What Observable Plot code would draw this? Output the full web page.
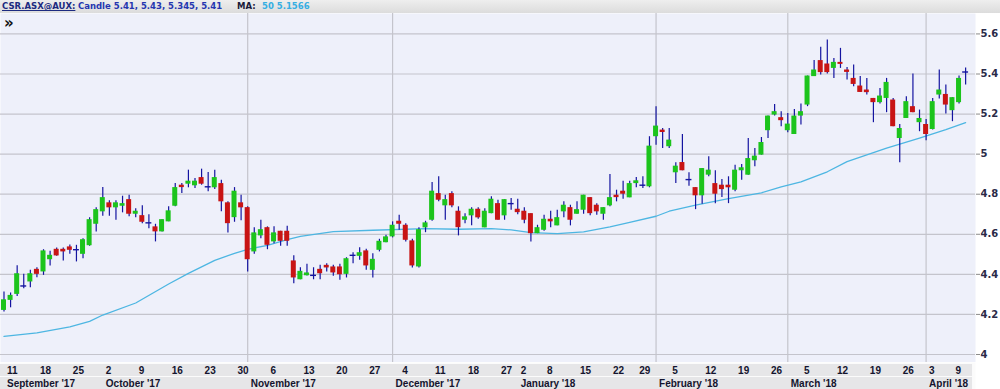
<!DOCTYPE html>
<html><head><meta charset="utf-8">
<script src="https://cdn.jsdelivr.net/npm/d3@7"></script>
<script src="https://cdn.jsdelivr.net/npm/@observablehq/plot@0.6"></script>
<style>
html,body{margin:0;padding:0;background:#fff;}
#wrap{position:relative;width:1000px;height:389px;overflow:hidden;}
#hdr{position:absolute;left:0;top:0;width:1000px;height:13px;background:linear-gradient(#eeeeee,#dcdcdc);font-family:"DejaVu Sans",sans-serif;font-weight:bold;font-size:8.5px;}
#hdr span{position:absolute;top:1px;line-height:11px;white-space:nowrap;}
#main{position:absolute;left:0;top:13px;width:1000px;height:349px;}
#axis{position:absolute;left:0;top:362px;width:1000px;height:27px;}
#main svg,#axis svg{display:block;}
#chev{position:absolute;left:4px;top:14px;font:bold 15px "DejaVu Sans",sans-serif;line-height:18px;color:#111;}
</style></head><body>
<div id="wrap">
 <div id="hdr">
  <span style="left:2px;color:#1c2a80;text-decoration:underline">CSR.ASX@AUX:</span>
  <span style="left:78px;color:#2536b0">Candle 5.41, 5.43, 5.345, 5.41</span>
  <span style="left:237px;color:#1a1a3a">MA:</span>
  <span style="left:262px;color:#35aee2">50 5.1566</span>
 </div>
 <div id="main"></div>
 <div id="axis"></div>
 <div id="chev">»</div>
</div>
<script>
// Daily candles, trading-day index 0 = 11 Sep 2017 ... 146 = 11 Apr 2018
const opens = [4.22,4.27,4.30,4.342,4.362,4.425,4.412,4.473,4.525,4.525,4.537,4.523,4.50,4.543,4.65,4.712,4.757,4.732,4.74,4.773,
4.70,4.693,4.657,4.637,4.612,4.662,4.74,4.845,4.85,4.842,4.883,4.837,4.832,4.853,4.757,4.683,4.757,4.733,4.512,4.592,
4.633,4.562,4.615,4.615,4.467,4.373,4.393,4.395,4.425,4.445,4.437,4.437,4.40,4.495,4.49,4.517,4.42,4.52,4.558,4.587,
4.665,4.645,4.567,4.437,4.632,4.67,4.803,4.742,4.803,4.715,4.67,4.692,4.725,4.632,4.703,4.753,4.692,4.753,4.725,4.715,
4.703,4.603,4.62,4.675,4.642,4.712,4.733,4.70,4.72,4.783,4.745,4.70,4.742,4.795,4.815,4.782,4.853,4.845,4.837,5.087,
5.12,5.037,4.907,4.958,4.873,4.833,4.792,4.895,4.853,4.845,4.845,4.82,4.917,4.895,4.967,4.995,5.117,5.195,5.182,5.117,
5.098,5.19,5.245,5.387,5.467,5.45,5.428,5.458,5.42,5.378,5.34,5.32,5.278,5.257,5.278,5.27,5.078,5.178,5.237,5.157,
5.148,5.123,5.295,5.298,5.217,5.257,5.41];
const highs = [4.312,4.307,4.443,4.40,4.42,4.433,4.523,4.515,4.532,4.532,4.547,4.545,4.578,4.683,4.733,4.833,4.767,4.767,4.79,4.795,
4.728,4.743,4.698,4.65,4.673,4.737,4.853,4.853,4.92,4.878,4.925,4.908,4.92,4.87,4.762,4.833,4.795,4.737,4.632,4.67,
4.637,4.637,4.615,4.64,4.493,4.433,4.45,4.433,4.445,4.453,4.445,4.45,4.483,4.508,4.533,4.525,4.503,4.575,4.595,4.662,
4.695,4.653,4.575,4.633,4.665,4.858,4.887,4.795,4.812,4.737,4.703,4.732,4.732,4.728,4.787,4.77,4.773,4.778,4.775,4.732,
4.703,4.645,4.695,4.715,4.72,4.762,4.745,4.762,4.795,4.783,4.753,4.733,4.898,4.82,4.865,4.865,4.883,4.887,5.087,5.237,
5.128,5.128,4.957,5.098,4.907,4.833,4.928,4.987,4.917,4.873,4.887,4.945,4.948,5.078,5.028,5.083,5.19,5.248,5.212,5.203,
5.223,5.25,5.39,5.467,5.533,5.57,5.478,5.528,5.433,5.445,5.387,5.378,5.278,5.328,5.378,5.278,5.148,5.287,5.40,5.22,
5.173,5.278,5.42,5.345,5.282,5.39,5.43];
const lows = [4.212,4.233,4.29,4.328,4.333,4.383,4.395,4.442,4.49,4.467,4.50,4.462,4.478,4.54,4.612,4.69,4.69,4.67,4.707,4.687,
4.682,4.653,4.628,4.562,4.612,4.662,4.737,4.803,4.832,4.828,4.845,4.812,4.823,4.712,4.607,4.66,4.667,4.412,4.50,4.578,
4.523,4.553,4.54,4.54,4.353,4.373,4.392,4.373,4.373,4.412,4.39,4.37,4.382,4.453,4.47,4.42,4.382,4.512,4.558,4.582,
4.62,4.562,4.432,4.432,4.608,4.665,4.762,4.67,4.732,4.592,4.653,4.642,4.675,4.632,4.703,4.67,4.67,4.72,4.698,4.653,
4.562,4.603,4.615,4.632,4.642,4.682,4.642,4.70,4.70,4.692,4.695,4.67,4.737,4.762,4.775,4.782,4.832,4.828,4.832,5.045,
5.028,5.028,4.853,4.917,4.84,4.723,4.75,4.887,4.753,4.783,4.753,4.812,4.87,4.895,4.937,4.995,5.078,5.19,5.137,5.107,
5.098,5.145,5.237,5.387,5.395,5.40,5.378,5.428,5.37,5.337,5.308,5.295,5.157,5.25,5.207,5.137,4.957,5.178,5.207,5.112,
5.067,5.12,5.275,5.20,5.162,5.25,5.345];
const closes = [4.273,4.295,4.403,4.342,4.403,4.40,4.517,4.495,4.492,4.512,4.52,4.523,4.573,4.673,4.723,4.783,4.732,4.757,4.753,4.70,
4.715,4.66,4.657,4.612,4.673,4.717,4.833,4.833,4.865,4.865,4.85,4.837,4.883,4.762,4.653,4.815,4.732,4.473,4.607,4.623,
4.545,4.607,4.565,4.565,4.382,4.415,4.407,4.395,4.403,4.432,4.407,4.398,4.478,4.495,4.508,4.442,4.475,4.565,4.587,4.645,
4.65,4.57,4.442,4.623,4.657,4.815,4.77,4.773,4.742,4.633,4.687,4.725,4.682,4.715,4.775,4.67,4.773,4.753,4.708,4.67,
4.603,4.633,4.675,4.662,4.683,4.745,4.67,4.723,4.795,4.703,4.712,4.733,4.783,4.783,4.80,4.853,4.867,4.845,5.04,5.14,
5.108,5.07,4.94,4.917,4.873,4.792,4.928,4.92,4.80,4.823,4.832,4.92,4.932,4.978,4.99,5.058,5.19,5.212,5.167,5.15,
5.19,5.212,5.39,5.42,5.407,5.407,5.458,5.448,5.408,5.348,5.308,5.307,5.257,5.29,5.358,5.137,5.128,5.262,5.207,5.178,
5.098,5.262,5.32,5.245,5.282,5.378,5.41];

// 50-day moving average, read at selected trading days
const maDay = [0,5,10,13,15,20,25,28,32,35,37,40,43,45,50,56,64,69,74,77,80,84,88,92,95,99,101,105,110,115,118,121,125,128,134,139,143,146];
const maVal = [4.09,4.108,4.138,4.165,4.197,4.257,4.352,4.405,4.47,4.505,4.525,4.545,4.573,4.59,4.613,4.62,4.628,4.625,4.628,4.622,4.608,4.603,4.612,4.637,4.66,4.69,4.715,4.745,4.778,4.807,4.837,4.862,4.912,4.963,5.03,5.08,5.122,5.157];

const yTicks = [4, 4.2, 4.4, 4.6, 4.8, 5, 5.2, 5.4, 5.6];
const gridDays = [37, 59, 99, 119, 140];
const weekDays = [0,5,10,15,20,25,30,35,40,45,50,55,60,65,70,75,78,82,87,92,96,101,106,111,116,121,126,131,136,140,144];
const weekText = ["11","18","25","2","9","16","23","30","6","13","20","27","4","11","18","27","2","8","15","22","29","5","12","19","26","5","12","19","26","3","9"];
const monthDays = [0,15,37,59,78,99,119,140];
const monthText = ["September '17","October '17","November '17","December '17","January '18","February '18","March '18","April '18"];

const candles = opens.map((o, i) => ({i, o, h: highs[i], l: lows[i], c: closes[i]}));
const ma = maDay.map((d, k) => ({i: d, v: maVal[k]}));
const weeks = weekDays.map((d, k) => ({i: d, t: weekText[k]}));
const months = monthDays.map((d, k) => ({i: d, t: monthText[k]}));
const xDomain = [-0.53, 147.5];
const navy = "#1414a0";

const main = Plot.plot({
  width: 1000, height: 349,
  marginLeft: 0, marginRight: 25, marginTop: 0, marginBottom: 0,
  x: {domain: xDomain, axis: null},
  y: {domain: [3.96, 5.702], axis: null},
  style: {background: "#ffffff", fontFamily: "DejaVu Sans", fontSize: "10px", fontWeight: "bold", overflow: "visible"},
  marks: [
    Plot.frame({fill: "#eef0fa", stroke: "none"}),
    Plot.ruleY(yTicks, {stroke: "#c4c4cc", strokeWidth: 1.2}),
    Plot.ruleX(gridDays, {stroke: "#c4c4cc", strokeWidth: 1.2}),
    Plot.line(ma, {x: "i", y: "v", stroke: "#4db6e2", strokeWidth: 1.3}),
    Plot.ruleX(candles, {x: "i", y1: "l", y2: "h", stroke: navy, strokeWidth: 1.2}),
    Plot.rect(candles.filter(d => d.o !== d.c), {
      x1: d => d.i - 0.38, x2: d => d.i + 0.38, y1: "o", y2: "c",
      fill: d => d.c > d.o ? "#1cc41c" : "#c81414"
    }),
    Plot.ruleY(candles.filter(d => d.o === d.c), {y: "o", x1: d => d.i - 0.45, x2: d => d.i + 0.45, stroke: navy, strokeWidth: 1.4}),
    Plot.axisY(yTicks, {anchor: "right", tickSize: 4, tickPadding: 1, stroke: "#8a8a8a", fill: "#2a2a48",
      tickFormat: d => String(+d.toFixed(1))})
  ]
});
document.getElementById("main").appendChild(main);

const axis = Plot.plot({
  width: 1000, height: 27,
  marginLeft: 0, marginRight: 25, marginTop: 0, marginBottom: 0,
  x: {domain: xDomain, axis: null},
  y: {type: "band", domain: ["w", "m"], padding: 0, axis: null},
  style: {background: "#ffffff", fontFamily: "Liberation Sans", fontSize: "10px", fontWeight: "bold", overflow: "visible"},
  marks: [
    Plot.frame({fill: "#fbfbfb", stroke: "none"}),
    Plot.barX(["w", "m"], {x1: xDomain[0], x2: 147.05, y: d => d, fill: "#e6e6e8", insetTop: 1}),
    Plot.ruleX(weeks, {x: "i", y: () => "w", stroke: "#7a7a7a", insetTop: 1}),
    Plot.ruleX(months, {x: "i", y: () => "m", stroke: "#7a7a7a", insetTop: 1}),
    Plot.text(weeks, {x: "i", y: () => "w", text: "t", textAnchor: "start", dx: 3, dy: 1, fill: "#14142e"}),
    Plot.text(months, {x: "i", y: () => "m", text: "t", textAnchor: "start", dx: 3, dy: 1, fill: "#14142e"})
  ]
});
document.getElementById("axis").appendChild(axis);
</script>
</body></html>
